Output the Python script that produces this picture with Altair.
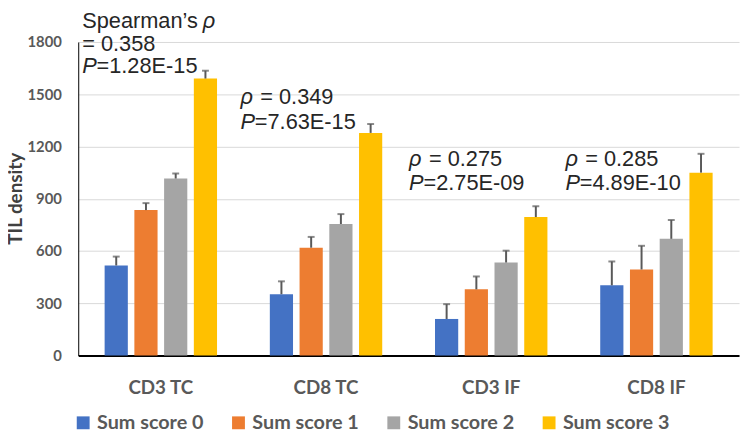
import altair as alt
import pandas as pd

groups = ["CD3 TC", "CD8 TC", "CD3 IF", "CD8 IF"]
series = ["Sum score 0", "Sum score 1", "Sum score 2", "Sum score 3"]
colors = ["#4472C4", "#ED7D31", "#A5A5A5", "#FFC000"]

mean_score0 = [517, 352, 210, 403]
mean_score1 = [835, 619, 380, 494]
mean_score2 = [1016, 755, 534, 670]
mean_score3 = [1590, 1278, 795, 1050]

err_score0 = [51, 74, 85, 137]
err_score1 = [40, 62, 74, 136]
err_score2 = [29, 57, 68, 108]
err_score3 = [45, 51, 62, 108]

y_ticks = [0, 300, 600, 900, 1200, 1500, 1800]

# annotation texts: (group, anchor value on the y scale, [(text, style)])
ann_texts = [
    ("CD3 TC", 1879, [("Spearman\u2019s ", "normal"), ("\u03c1", "italic")]),
    ("CD3 TC", 1750, [("= 0.358", "normal")]),
    ("CD3 TC", 1624, [("P", "italic"), ("=1.28E-15", "normal")]),
    ("CD8 TC", 1442, [("\u03c1", "italic"), ("= 0.349", "normal")]),
    ("CD8 TC", 1300, [("P", "italic"), ("=7.63E-15", "normal")]),
    ("CD3 IF", 1090, [("\u03c1", "italic"), ("= 0.275", "normal")]),
    ("CD3 IF", 948, [("P", "italic"), ("=2.75E-09", "normal")]),
    ("CD8 IF", 1090, [("\u03c1", "italic"), ("= 0.285", "normal")]),
    ("CD8 IF", 948, [("P", "italic"), ("=4.89E-10", "normal")]),
]
# layout: pixel shift of each annotation block from its group centre
group_dx = {"CD3 TC": -79.5, "CD8 TC": -86.5, "CD3 IF": -83, "CD8 IF": -92}
# pixel shift of a segment after the given preceding segment
after_shift = {"Spearman\u2019s ": 122, "P": 14.5, "\u03c1": 20}

means = [mean_score0, mean_score1, mean_score2, mean_score3]
errs = [err_score0, err_score1, err_score2, err_score3]
rows = []
for si, s in enumerate(series):
    for gi, g in enumerate(groups):
        rows.append({"group": g, "series": s, "mean": means[si][gi],
                     "top": means[si][gi] + errs[si][gi]})
df = pd.DataFrame(rows)

label_grey = "#595959"
bold_font = "Lato"

x_enc = alt.X("group:N", sort=groups,
              scale=alt.Scale(paddingInner=0.28, paddingOuter=0.14),
              axis=alt.Axis(title=None, labelAngle=0, labelFont=bold_font,
                            labelFontWeight="bold", labelFontSize=19,
                            labelColor=label_grey, labelPadding=23, ticks=False,
                            domainColor="black", domainWidth=2, grid=False))
xo_enc = alt.XOffset("series:N", sort=series,
                     scale=alt.Scale(paddingInner=0.22, paddingOuter=0.11))
y_scale = alt.Scale(domain=[0, 1800], nice=False)
y_axis = alt.Axis(values=y_ticks, format="d", title="TIL density",
                  titleFont=bold_font, titleFontWeight="bold", titleFontSize=19,
                  titleColor="#404040", titleX=-57, titleY=158, titleAngle=-90,
                  titleAlign="center", titleBaseline="alphabetic",
                  labelFont=bold_font,
                  labelFontWeight="bold", labelFontSize=15, labelColor=label_grey,
                  labelPadding=17, ticks=False, domainColor="black",
                  domainWidth=1, gridColor="#D9D9D9", gridWidth=1)

base = alt.Chart(df)
bars = base.mark_bar().encode(
    x=x_enc, xOffset=xo_enc,
    y=alt.Y("mean:Q", scale=y_scale, axis=y_axis),
    color=alt.Color("series:N", sort=series,
                    scale=alt.Scale(domain=series, range=colors),
                    legend=alt.Legend(title=None, orient="none", legendX=-5,
                                      legendY=375, direction="horizontal",
                                      columns=4, symbolType="square",
                                      symbolSize=169, symbolStrokeWidth=0,
                                      labelFont=bold_font, labelFontWeight="bold",
                                      labelFontSize=20, labelColor=label_grey,
                                      labelOffset=4, columnPadding=25,
                                      labelLimit=300)),
)
rules = base.mark_rule(color="#595959", strokeWidth=2).encode(
    x=x_enc, xOffset=xo_enc,
    y=alt.Y("mean:Q", scale=y_scale, axis=y_axis), y2="top:Q")
caps = base.mark_tick(color="#595959", thickness=2, size=7, orient="horizontal").encode(
    x=x_enc, xOffset=xo_enc, y=alt.Y("top:Q", scale=y_scale, axis=y_axis))

layers = [bars, rules, caps]
for g, yv, segs in ann_texts:
    for i, (t, style) in enumerate(segs):
        offset = after_shift[segs[i - 1][0]] if i > 0 else 0
        d = pd.DataFrame([{"group": g, "yv": yv, "label": t}])
        layers.append(
            alt.Chart(d).mark_text(align="left", baseline="alphabetic",
                                   dx=group_dx[g] + offset, font="Liberation Sans",
                                   fontSize=22, fontStyle=style, color="#262626")
            .encode(x=x_enc, y=alt.Y("yv:Q", scale=y_scale, axis=y_axis),
                    text="label:N"))

chart = alt.layer(*layers).properties(
    width=668, height=317,
    autosize=alt.AutoSizeParams(type="none"),
    padding={"left": 71, "top": 32, "right": 2, "bottom": 80},
).configure_view(stroke=None)

chart.save("out.html", embed_options={"renderer": "svg", "actions": False})
